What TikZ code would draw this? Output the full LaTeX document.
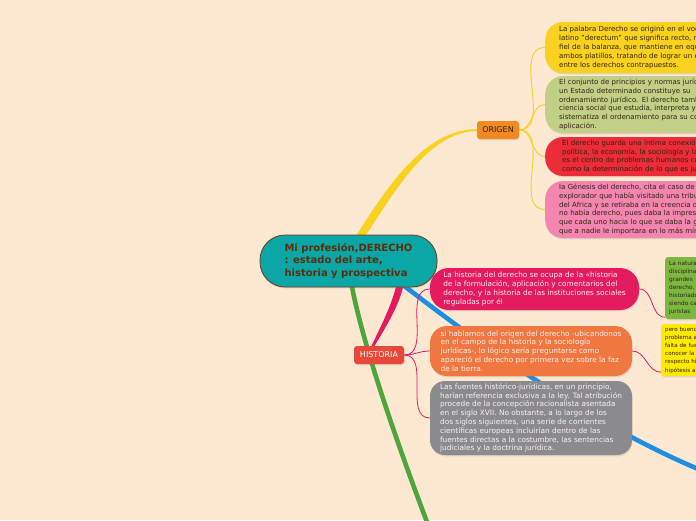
\documentclass[tikz,border=0pt]{standalone}
\usepackage{fontspec}
\setmainfont{DejaVu Sans}
\usetikzlibrary{shadows,calc}
\pgfdeclarelayer{back}
\pgfdeclarelayer{bg}
\pgfsetlayers{back,bg,main}
\definecolor{bgc}{HTML}{FDE8D2}
\definecolor{cYel}{HTML}{F8D21E}
\definecolor{cOli}{HTML}{C2CF87}
\definecolor{cRed}{HTML}{EC2C38}
\definecolor{cPnk}{HTML}{F386B0}
\definecolor{cOrg}{HTML}{F18A20}
\definecolor{cTeal}{HTML}{0BA6A6}
\definecolor{cBrn}{HTML}{6E3B1A}
\definecolor{cTxtB}{HTML}{5B2E0C}
\definecolor{cHis}{HTML}{E8483A}
\definecolor{cCrim}{HTML}{E41B5F}
\definecolor{cOr2}{HTML}{F0773F}
\definecolor{cGry}{HTML}{8B8B8F}
\definecolor{cGrn}{HTML}{7CB742}
\definecolor{cYl2}{HTML}{FFEA00}
\definecolor{lnG}{HTML}{4EA53C}
\definecolor{lnB}{HTML}{1E8FE0}
\definecolor{txtD}{HTML}{332211}
\definecolor{txtW}{HTML}{FBF1F1}
\tikzset{
  shd/.style={drop shadow={opacity=0.22,shadow xshift=0.6pt,shadow yshift=-1.3pt}},
  topbox/.style={shd,anchor=west,rounded corners=18pt,text width=215pt,inner xsep=14pt,inner ysep=0pt,
    align=left,text=txtD,font=\fontsize{7.0}{8.8}\selectfont},
  hisbox/.style={shd,rounded corners=17pt,inner sep=0pt,align=left,text=txtW,
    font=\fontsize{7.35}{8.8}\selectfont},
  smallbox/.style={shd,anchor=west,rounded corners=3pt,text width=80pt,inner xsep=4pt,inner ysep=0pt,
    align=left,text=txtD,font=\fontsize{5.8}{8.1}\selectfont},
  tag/.style={shd,rounded corners=3pt,inner sep=0pt,minimum height=18pt,font=\fontsize{8}{9}\selectfont},
  thinY/.style={draw=cYel,line width=0.9pt},
  thinC/.style={draw=cCrim,line width=0.8pt},
}
\begin{document}
\begin{tikzpicture}[x=1pt,y=-1pt]
\useasboundingbox (0,0) rectangle (696,520);
\begin{pgfonlayer}{back}
\fill[bgc] (0,0) rectangle (696,520);
\end{pgfonlayer}
\clip (0,0) rectangle (696,520);

% central node
\node[shd,fill=cTeal,draw=cBrn,line width=0.8pt,rounded corners=25pt,minimum width=177pt,minimum height=52pt,
  inner sep=0pt,align=left,text=cTxtB,font=\bfseries\fontsize{10}{12.5}\selectfont] (c) at (348.5,261)
  {Mi profesión,DERECHO\\: estado del arte,\\historia y prospectiva};

% ORIGEN branch
\node[tag,fill=cOrg,minimum width=42pt,text=txtD] (og) at (498,130) {ORIGEN};

\node[topbox,fill=cYel,minimum height=51pt] (b1) at (545,47.5)
 {La palabra Derecho se originó en el vocablo\\
  latino "derectum" que significa recto, rígido,\\
  fiel de la balanza, que mantiene en equilibrio\\
  ambos platillos, tratando de lograr un equilibrio\\
  entre los derechos contrapuestos.};
\node[topbox,fill=cOli,minimum height=57pt] (b2) at (545,104.5)
 {El conjunto de principios y normas jurídicas de\\
  un Estado determinado constituye su\\
  ordenamiento jurídico. El derecho también es la\\
  ciencia social que estudia, interpreta y\\
  sistematiza el ordenamiento para su correcta\\
  aplicación.};
\node[topbox,fill=cRed,minimum height=39pt,inner xsep=17pt] (b3) at (545,156.5)
 {El derecho guarda una íntima conexión con la\\
  política, la economía, la sociología y la historia;\\
  es el centro de problemas humanos complejos\\
  como la determinación de lo que es justo.};
\node[topbox,fill=cPnk,minimum height=57pt] (b4) at (545,209.5)
 {la Génesis del derecho, cita el caso de un\\
  explorador que había visitado una tribu\\
  del Africa y se retiraba en la creencia de que\\
  no había derecho, pues daba la impresión de\\
  que cada uno hacia lo que se daba la gana\\
  que a nadie le importara en lo más mínimo.};

% HISTORIA branch
\node[tag,fill=cHis,minimum width=50pt,text=white] (hs) at (379,355) {HISTORIA};

\node[hisbox,fill=cCrim,minimum width=209pt,minimum height=42pt,rounded corners=19pt] (ha) at (534.5,289)
 {La historia del derecho se ocupa de la «historia\\
  de la formulación, aplicación y comentarios del\\
  derecho, y la historia de las instituciones sociales\\
  reguladas por él};
\node[hisbox,fill=cOr2,minimum width=202pt,minimum height=50pt] (hb) at (531,351)
 {si hablamos del origen del derecho -ubicandonos\\
  en el campo de la historia y la sociología\\
  jurídicas-, lo lógico sería preguntarse como\\
  apareció el derecho por primera vez sobre la faz\\
  de la tierra.};
\node[hisbox,fill=cGry,minimum width=202pt,minimum height=74pt,rounded corners=15pt] (hc) at (531,418)
 {Las fuentes histórico-jurídicas, en un principio,\\
  harían referencia exclusiva a la ley. Tal atribución\\
  procede de la concepción racionalista asentada\\
  en el siglo XVII. No obstante, a lo largo de los\\
  dos siglos siguientes, una serie de corrientes\\
  científicas europeas incluirían dentro de las\\
  fuentes directas a la costumbre, las sentencias\\
  judiciales y la doctrina jurídica.};

\node[smallbox,fill=cGrn,minimum height=62pt] (grn) at (665,288)
 {La naturaleza\\ disciplina\\ grandes\\ derecho,\\ historiadores\\ siendo cada\\ juristas};
\node[smallbox,fill=cYl2,minimum height=52pt,font=\fontsize{5.6}{8.2}\selectfont] (yel) at (661,350)
 {pero bueno\\ problema al\\ falta de fuentes\\ conocer la\\ respecto histórico\\ hipótesis al};

\coordinate (gEnd) at (430,530);
\coordinate (bEnd) at (708,473);

\begin{pgfonlayer}{bg}
 % thick branches
 \fill[cYel] ($(c.north)+(6,4)$) .. controls (392,178) and (428,129) .. ($(og.west)+(1,-0.9)$)
   -- ($(og.west)+(1,0.9)$) .. controls (430,132) and (400,183) .. ($(c.north)+(15,4)$) -- cycle;
 \fill[cCrim] ($(c.south)+(48,-3)$) .. controls (392,305) and (380,328) .. ($(hs.north)+(-8,1)$)
   -- ($(hs.north)+(-5,1)$) .. controls (385,328) and (400,305) .. ($(c.south)+(55,-3)$) -- cycle;
 \draw[lnG,line width=4.6pt] ($(c.south)+(3,-3)$) .. controls (362,340) and (392,430) .. (gEnd);
 \draw[lnB,line width=4.6pt] ($(c.south)+(50,-6)$) .. controls (480,345) and (600,430) .. (bEnd);
 % thin connectors
 \draw[thinY] (og.east) to[out=0,in=180] (b1.west);
 \draw[thinY] (og.east) to[out=0,in=180] (b2.west);
 \draw[thinY] (og.east) to[out=0,in=180] (b3.west);
 \draw[thinY] (og.east) to[out=0,in=180] (b4.west);
 \draw[thinC] (hs.east) to[out=0,in=180] (ha.west);
 \draw[thinC] (hs.east) to[out=0,in=180] (hb.west);
 \draw[thinC] (hs.east) to[out=0,in=180] (hc.west);
 \draw[thinC] (ha.east) to[out=0,in=180] ($(grn.south west)+(0,-2)$);
 \draw[thinC] (hb.east) to[out=0,in=180] ($(yel.south west)+(0,-4)$);
\end{pgfonlayer}
\end{tikzpicture}
\end{document}
